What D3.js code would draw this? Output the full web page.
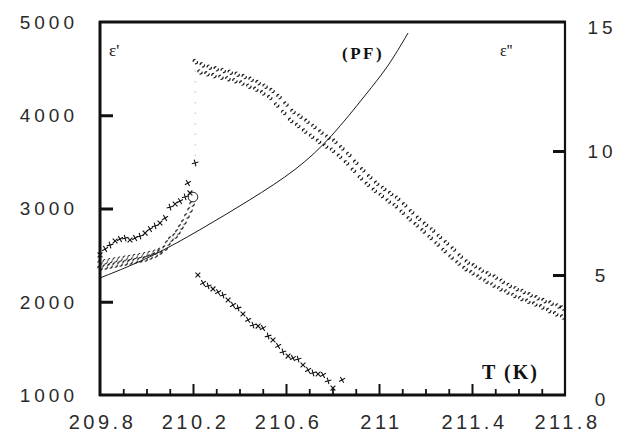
<!DOCTYPE html>
<html>
<head>
<meta charset="utf-8">
<script src="https://cdn.jsdelivr.net/npm/d3@7"></script>
<style>
  html, body { margin: 0; padding: 0; background: #fff; }
  svg { display: block; }
  .lbl { font-family: "Liberation Sans", Arial, sans-serif; fill: #2a2a2a; }
  .ser { font-family: "Liberation Serif", "Times New Roman", serif; fill: #111; }
</style>
</head>
<body>
<script>
// ---- axis settings -------------------------------------------------------
const xDomain = [209.8, 211.8];
const leftDomain = [1000, 5000];      // ε'
const rightDomain = [0, 15];          // ε''
const xTickValues = [209.8, 210.2, 210.6, 211, 211.4, 211.8];
const xTickLabels = ["209.8", "210.2", "210.6", "211", "211.4", "211.8"];
const xMinorTicks = [209.9, 210.0, 210.1, 210.3, 210.4, 210.5, 210.7, 210.8, 210.9,
                     211.1, 211.2, 211.3, 211.5, 211.6, 211.7];
const xMajorInner = [210.2, 210.6, 211, 211.4];
const leftTickValues = [1000, 2000, 3000, 4000, 5000];
const leftInnerTicks = [2000, 3000, 4000];
const rightTickValues = [0, 5, 10, 15];
const rightInnerTicks = [5, 10];

// ---- ε' (open circles), below the transition, two runs -------------------
const epsLowA = [
  [209.800, 2362], [209.822, 2373], [209.843, 2383], [209.865, 2394], [209.886, 2405],
  [209.908, 2416], [209.929, 2426], [209.951, 2437], [209.972, 2448], [209.994, 2458],
  [210.015, 2480], [210.037, 2501], [210.058, 2534], [210.080, 2576], [210.092, 2630],
  [210.105, 2673], [210.123, 2705], [210.135, 2748], [210.148, 2802], [210.161, 2855],
  [210.174, 2920], [210.187, 2984], [210.196, 3048]
];
const epsLowB = [
  [209.800, 2420], [209.822, 2430], [209.843, 2440], [209.865, 2450], [209.886, 2458],
  [209.908, 2468], [209.929, 2476], [209.951, 2486], [209.972, 2495], [209.994, 2505],
  [210.015, 2518], [210.037, 2532], [210.058, 2552]
];
// single enlarged point at the transition
const epsJump = [[210.200, 3123]];

// ---- ε' (open circles), above the transition, two runs -------------------
const epsHighA = [
  [210.21, 4575], [210.24, 4540], [210.27, 4515], [210.30, 4498], [210.33, 4480],
  [210.36, 4462], [210.39, 4440], [210.42, 4415], [210.45, 4385], [210.48, 4350],
  [210.51, 4312], [210.54, 4265], [210.57, 4200], [210.60, 4120], [210.63, 4040],
  [210.66, 3990], [210.69, 3935], [210.72, 3880], [210.75, 3820], [210.78, 3765],
  [210.81, 3720], [210.84, 3650], [210.87, 3580], [210.90, 3495], [210.93, 3415],
  [210.96, 3340], [210.99, 3270], [211.02, 3215], [211.05, 3160], [211.08, 3110],
  [211.11, 3040], [211.14, 2965], [211.17, 2895], [211.20, 2830], [211.23, 2770],
  [211.26, 2700], [211.29, 2632], [211.32, 2565], [211.35, 2490], [211.38, 2425],
  [211.41, 2385], [211.44, 2340], [211.47, 2300], [211.50, 2265], [211.53, 2220],
  [211.56, 2175], [211.59, 2140], [211.62, 2110], [211.65, 2075], [211.68, 2042],
  [211.71, 2012], [211.74, 1985], [211.77, 1955], [211.79, 1933]
];
const epsHighB = [
  [210.23, 4464], [210.26, 4445], [210.29, 4425], [210.32, 4408], [210.35, 4392],
  [210.38, 4370], [210.41, 4345], [210.44, 4312], [210.47, 4278], [210.50, 4240],
  [210.53, 4190], [210.56, 4110], [210.59, 4030], [210.62, 3945], [210.65, 3890],
  [210.68, 3830], [210.71, 3775], [210.74, 3720], [210.77, 3670], [210.80, 3625],
  [210.83, 3560], [210.86, 3490], [210.89, 3410], [210.92, 3330], [210.95, 3260],
  [210.98, 3195], [211.01, 3140], [211.04, 3080], [211.07, 3030], [211.10, 2960],
  [211.13, 2890], [211.16, 2825], [211.19, 2760], [211.22, 2690], [211.25, 2620],
  [211.28, 2550], [211.31, 2480], [211.34, 2415], [211.37, 2355], [211.40, 2310],
  [211.43, 2265], [211.46, 2220], [211.49, 2180], [211.52, 2140], [211.55, 2105],
  [211.58, 2068], [211.61, 2035], [211.64, 2005], [211.67, 1975], [211.70, 1945],
  [211.73, 1905], [211.76, 1870], [211.79, 1836]
];

// ---- ε'' (crosses) --------------------------------------------------------
const lossLow = [
  [209.800, 5.81], [209.822, 6.05], [209.843, 6.21], [209.865, 6.37], [209.886, 6.45],
  [209.908, 6.49], [209.929, 6.41], [209.951, 6.49], [209.972, 6.57], [209.994, 6.69],
  [210.015, 6.85], [210.037, 6.98], [210.058, 7.10], [210.080, 7.30], [210.101, 7.74],
  [210.123, 7.86], [210.144, 7.98], [210.166, 8.15], [210.187, 8.31], [210.178, 8.71],
  [210.209, 9.52]
];
const lossHigh = [
  [210.221, 5.00], [210.243, 4.68], [210.265, 4.56], [210.286, 4.44], [210.308, 4.31],
  [210.329, 4.19], [210.351, 3.99], [210.372, 3.79], [210.394, 3.67], [210.415, 3.43],
  [210.437, 3.19], [210.458, 2.98], [210.480, 2.94], [210.501, 2.86], [210.523, 2.54],
  [210.544, 2.38], [210.566, 2.14], [210.587, 1.90], [210.609, 1.73], [210.630, 1.65],
  [210.652, 1.61], [210.673, 1.37], [210.695, 1.17], [210.716, 1.05], [210.738, 1.01],
  [210.759, 0.97], [210.781, 0.73], [210.802, 0.44], [210.841, 0.77]
];

// ---- (PF) curve, in ε' units ----------------------------------------------
const pfCurve = [
  [209.800, 2255], [210.015, 2469], [210.230, 2769], [210.445, 3091], [210.647, 3413],
  [210.798, 3767], [210.948, 4239], [211.039, 4517], [211.125, 4882]
];

// ---- layout ------------------------------------------------------------------
const W = 626, H = 444;
const plot = { left: 100, right: 565, top: 22, bottom: 395 };

const svg = d3.select("body").append("svg").attr("width", W).attr("height", H);

const x = d3.scaleLinear(xDomain, [plot.left, plot.right]);
const yL = d3.scaleLinear(leftDomain, [plot.bottom, plot.top]);
const yR = d3.scaleLinear(rightDomain, [399, 27]);

// PF curve (smoothed through the read points)
svg.append("path")
  .datum(pfCurve)
  .attr("fill", "none")
  .attr("stroke", "#1a1a1a")
  .attr("stroke-width", 1)
  .attr("d", d3.line().x(d => x(d[0])).y(d => yL(d[1])).curve(d3.curveBasis));

// faint dotted guide at the transition
svg.append("line")
  .attr("x1", x(210.21)).attr("x2", x(210.21))
  .attr("y1", yL(4480)).attr("y2", yL(3400))
  .attr("stroke", "#c8c8c8").attr("stroke-width", 1.2).attr("stroke-dasharray", "1.5,9");

// open circles for ε'
function circles(data, r, sw) {
  svg.append("g").selectAll("circle").data(data).join("circle")
    .attr("cx", d => x(d[0])).attr("cy", d => yL(d[1]))
    .attr("r", r)
    .attr("fill", "none")
    .attr("stroke", "#1a1a1a")
    .attr("stroke-width", sw)
    .attr("stroke-dasharray", "3.5,2.5");
}
circles(epsLowA, 2.2, 1.1);
circles(epsLowB, 2.2, 1.0);
circles(epsHighA, 2.2, 1.15);
circles(epsHighB, 2.2, 1.15);
svg.append("g").selectAll("circle").data(epsJump).join("circle")
  .attr("cx", d => x(d[0])).attr("cy", d => yL(d[1]))
  .attr("r", 4.8).attr("fill", "none").attr("stroke", "#222").attr("stroke-width", 1);

// crosses for ε''
const crossPath = "M-2.4,-2.4L2.4,2.4M-2.4,2.4L2.4,-2.4";
function crosses(data) {
  svg.append("g").selectAll("path").data(data).join("path")
    .attr("transform", (d, i) => `translate(${x(d[0])},${yR(d[1])}) rotate(${(i % 3) * 15})`)
    .attr("d", crossPath)
    .attr("fill", "none")
    .attr("stroke", "#111")
    .attr("stroke-width", 1.1);
}
crosses(lossLow);
crosses(lossHigh);

// frame
const frame = svg.append("g").attr("stroke", "#111").attr("fill", "none");
frame.append("line").attr("x1", plot.left).attr("x2", plot.left)
  .attr("y1", plot.top - 1).attr("y2", plot.bottom + 1).attr("stroke-width", 3);
frame.append("line").attr("x1", plot.left - 1).attr("x2", plot.right + 1)
  .attr("y1", plot.bottom).attr("y2", plot.bottom).attr("stroke-width", 3);
frame.append("line").attr("x1", plot.left - 1).attr("x2", plot.right + 1)
  .attr("y1", plot.top).attr("y2", plot.top).attr("stroke-width", 3);
frame.append("line").attr("x1", plot.right).attr("x2", plot.right)
  .attr("y1", plot.top - 1).attr("y2", plot.bottom + 1).attr("stroke-width", 2.2);

// inward ticks
function tickStyle(g, w) {
  g.select(".domain").remove();
  g.selectAll("text").remove();
  g.selectAll("line").attr("stroke", "#111").attr("stroke-width", w);
}
svg.append("g").attr("transform", `translate(0,${plot.bottom})`)
  .call(d3.axisBottom(x).tickValues(xMinorTicks).tickSize(-6).tickSizeOuter(0))
  .call(g => tickStyle(g, 1.8));
svg.append("g").attr("transform", `translate(0,${plot.bottom})`)
  .call(d3.axisBottom(x).tickValues(xMajorInner).tickSize(-11).tickSizeOuter(0))
  .call(g => tickStyle(g, 2));
svg.append("g").attr("transform", `translate(${plot.left},0)`)
  .call(d3.axisLeft(yL).tickValues(leftInnerTicks).tickSize(-13).tickSizeOuter(0))
  .call(g => tickStyle(g, 3));
svg.append("g").attr("transform", `translate(${plot.right},0)`)
  .call(d3.axisRight(yR).tickValues(rightInnerTicks).tickSize(-12).tickSizeOuter(0))
  .call(g => tickStyle(g, 3));

// tick labels
function labelStyle(g) {
  g.select(".domain").remove();
  g.selectAll("line").remove();
}
svg.append("g").attr("transform", `translate(${plot.left},0)`)
  .call(d3.axisLeft(yL).tickValues(leftTickValues).tickSize(0).tickPadding(26)
        .tickFormat(d3.format("d")))
  .call(labelStyle)
  .call(g => g.selectAll("text").attr("class", "lbl")
        .attr("font-size", 19).attr("letter-spacing", 4).attr("dy", "0.34em")
        .attr("dx", 4));
svg.append("g").attr("transform", `translate(0,${plot.bottom})`)
  .call(d3.axisBottom(x).tickValues(xTickValues).tickSize(0).tickPadding(24)
        .tickFormat((d, i) => xTickLabels[i]))
  .call(labelStyle)
  .call(g => g.selectAll("text").attr("class", "lbl")
        .attr("font-size", 20).attr("letter-spacing", 3.5).attr("dx", 2)
        .attr("dy", "0.5em"));
svg.append("g").attr("transform", `translate(${plot.right},0)`)
  .call(d3.axisRight(yR).tickValues(rightTickValues).tickSize(0).tickPadding(35)
        .tickFormat(d3.format("d")))
  .call(labelStyle)
  .call(g => g.selectAll("text").attr("class", "lbl")
        .attr("text-anchor", "middle")
        .attr("font-size", 19).attr("letter-spacing", 4).attr("dx", 2).attr("dy", "0.34em"));

// annotations
svg.append("text").attr("class", "ser").attr("x", 109).attr("y", 56)
  .attr("font-size", 17).text("ε'");
svg.append("text").attr("class", "ser").attr("x", 500).attr("y", 56)
  .attr("font-size", 16).text("ε''");
svg.append("text").attr("class", "ser").attr("x", 342).attr("y", 59)
  .attr("font-size", 17).attr("font-weight", "bold").attr("letter-spacing", 2.5)
  .text("(PF)");
svg.append("text").attr("class", "ser").attr("x", 482).attr("y", 379)
  .attr("font-size", 20).attr("font-weight", "bold").attr("letter-spacing", 2)
  .text("T (K)");
</script>
</body>
</html>
